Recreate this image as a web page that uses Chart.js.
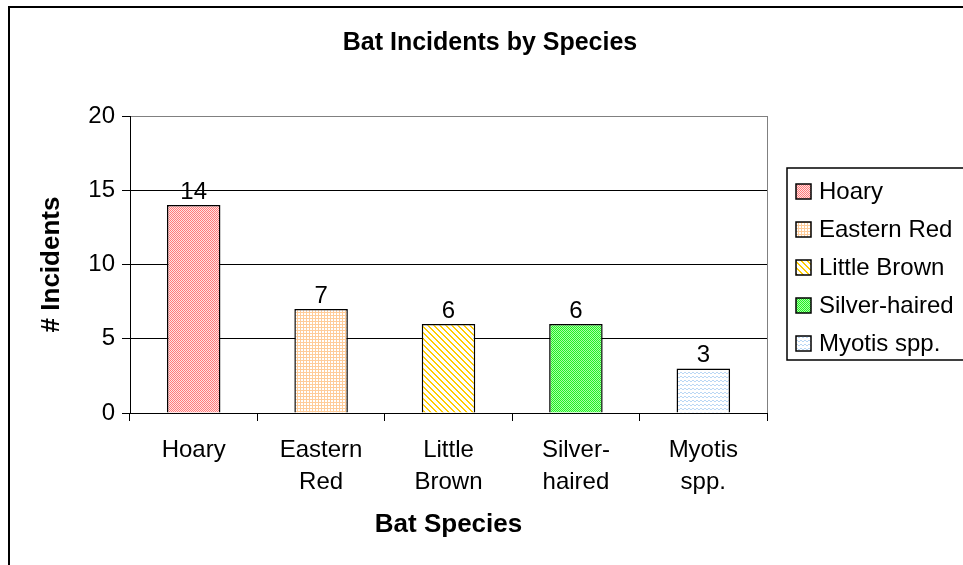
<!DOCTYPE html>
<html>
<head>
<meta charset="utf-8">
<script src="https://cdn.jsdelivr.net/npm/chart.js@4.4.1/dist/chart.umd.min.js"></script>
<style>
html,body{margin:0;padding:0;background:#fff;}
#wrap{width:963px;height:565px;position:relative;overflow:hidden;}
canvas{display:block;}
</style>
</head>
<body>
<div id="wrap"><canvas id="c" width="963" height="565"></canvas></div>
<script>
// ---- data ----
const chartTitle = 'Bat Incidents by Species';
const xAxisTitle = 'Bat Species';
const yAxisTitle = '# Incidents';
const categories = [['Hoary'], ['Eastern', 'Red'], ['Little', 'Brown'], ['Silver-', 'haired'], ['Myotis', 'spp.']];
const legendLabels = ['Hoary', 'Eastern Red', 'Little Brown', 'Silver-haired', 'Myotis spp.'];
const incidents = [14, 7, 6, 6, 3];
const yTickValues = [0, 5, 10, 15, 20];

// ---- fill patterns ----
function makePattern(w, h, bg, fg, test) {
  const c = document.createElement('canvas');
  c.width = w; c.height = h;
  const x = c.getContext('2d');
  x.fillStyle = bg; x.fillRect(0, 0, w, h);
  x.fillStyle = fg;
  for (let i = 0; i < w; i++) for (let j = 0; j < h; j++) if (test(i, j)) x.fillRect(i, j, 1, 1);
  return x.createPattern(c, 'repeat');
}
const patterns = [
  makePattern(2, 2, '#FFE2E2', '#FF7A7A', (i, j) => (i + j) % 2 === 0),
  makePattern(3, 3, '#FFFFFF', '#FFCC99', (i, j) => i === 0 || j === 0),
  makePattern(6, 6, '#FFFFFF', '#FFCC00', (i, j) => ((i - j + 12) % 6) < 2),
  makePattern(2, 2, '#A8FFA8', '#22EE22', (i, j) => (i + j) % 2 === 0),
  makePattern(4, 4, '#FFFFFF', '#B9D7F5', (i, j) => j === (i < 2 ? 0 : 1))
];

const FONT = "'Liberation Sans', Arial, sans-serif";

const decor = {
  id: 'decor',
  beforeDraw(chart) {
    const ctx = chart.ctx;
    ctx.save();
    ctx.fillStyle = '#fff';
    ctx.fillRect(0, 0, chart.width, chart.height);
    ctx.restore();
  },
  afterDatasetsDraw(chart) {
    const ctx = chart.ctx;
    const meta = chart.getDatasetMeta(0);
    ctx.save();
    ctx.fillStyle = '#000';
    ctx.font = '24px ' + FONT;
    ctx.textAlign = 'center';
    ctx.textBaseline = 'alphabetic';
    meta.data.forEach((bar, i) => {
      ctx.fillText(String(chart.data.datasets[0].data[i]), bar.x, bar.y - 6);
    });
    ctx.restore();
  },
  afterDraw(chart) {
    const ctx = chart.ctx;
    const a = chart.chartArea;
    ctx.save();
    // plot area right border
    ctx.strokeStyle = '#808080';
    ctx.lineWidth = 1;
    ctx.beginPath();
    ctx.moveTo(Math.round(a.right) + 0.5, a.top);
    ctx.lineTo(Math.round(a.right) + 0.5, a.bottom);
    ctx.stroke();
    // outer chart border
    ctx.strokeStyle = '#000';
    ctx.lineWidth = 2;
    ctx.beginPath();
    ctx.moveTo(9, chart.height + 2);
    ctx.lineTo(9, 7);
    ctx.lineTo(chart.width + 2, 7);
    ctx.stroke();
    // legend
    const lx = a.right + 20, ly = 168, lh = 192;
    ctx.lineWidth = 1.5;
    ctx.beginPath();
    ctx.moveTo(chart.width + 2, ly);
    ctx.lineTo(lx, ly);
    ctx.lineTo(lx, ly + lh);
    ctx.lineTo(chart.width + 2, ly + lh);
    ctx.stroke();
    ctx.font = '24px ' + FONT;
    ctx.textAlign = 'left';
    ctx.textBaseline = 'middle';
    const bg = chart.data.datasets[0].backgroundColor;
    legendLabels.forEach((lab, i) => {
      const cy = ly + 23 + i * 38;
      ctx.fillStyle = bg[i];
      ctx.fillRect(lx + 9, cy - 7, 15, 15);
      ctx.strokeStyle = '#000';
      ctx.lineWidth = 1.5;
      ctx.strokeRect(lx + 9, cy - 7, 15, 15);
      ctx.fillStyle = '#000';
      ctx.fillText(lab, lx + 32, cy + 1);
    });
    ctx.restore();
  }
};

new Chart(document.getElementById('c'), {
  type: 'bar',
  data: {
    labels: categories,
    datasets: [{
      label: yAxisTitle,
      data: incidents,
      backgroundColor: patterns,
      borderColor: '#000',
      borderWidth: 1.5,
      barPercentage: 0.42,
      categoryPercentage: 1.0
    }]
  },
  options: {
    responsive: false,
    animation: false,
    devicePixelRatio: 1,
    layout: { padding: { left: 17, right: 0, top: 0, bottom: 0 } },
    plugins: {
      legend: { display: false },
      tooltip: { enabled: false },
      title: {
        display: true,
        text: chartTitle,
        color: '#000',
        font: { family: FONT, size: 25, weight: 'bold', lineHeight: 1.2 },
        padding: { top: 28, bottom: 58 }
      }
    },
    scales: {
      x: {
        offset: true,
        grid: { display: true, offset: true, drawOnChartArea: false, drawTicks: true, tickLength: 8, color: '#000', tickColor: '#000', lineWidth: 1 },
        border: { display: true, color: '#000', width: 1 },
        ticks: { color: '#000', font: { family: FONT, size: 24, lineHeight: 32 / 24 }, padding: 13, maxRotation: 0, minRotation: 0, autoSkip: false },
        title: { display: true, text: xAxisTitle, color: '#000', font: { family: FONT, size: 26, weight: 'bold', lineHeight: 1.2 }, padding: { top: 0, bottom: 24.4 } },
        afterFit(s) { s.height = 152; }
      },
      y: {
        min: 0,
        max: 20,
        afterBuildTicks(s) { s.ticks = yTickValues.map(v => ({ value: v })); },
        grid: {
          display: true, drawTicks: true, tickLength: 8,
          color: (c) => (c.tick && c.tick.value === 20) ? '#808080' : '#000',
          tickColor: '#000', lineWidth: 1
        },
        border: { display: true, color: '#000', width: 1 },
        ticks: { color: '#000', font: { family: FONT, size: 24 }, padding: 7 },
        title: { display: true, text: yAxisTitle, color: '#000', font: { family: FONT, size: 26, weight: 'bold', lineHeight: 1.2 }, padding: { top: 19.4, bottom: 0 } },
        afterFit(s) { s.width = 113; }
      },
      legendSpace: {
        type: 'linear',
        position: 'right',
        display: true,
        grid: { display: false, drawTicks: false },
        border: { display: false },
        ticks: { display: false },
        afterFit(s) { s.width = 196; }
      }
    }
  },
  plugins: [decor]
});
</script>
</body>
</html>
